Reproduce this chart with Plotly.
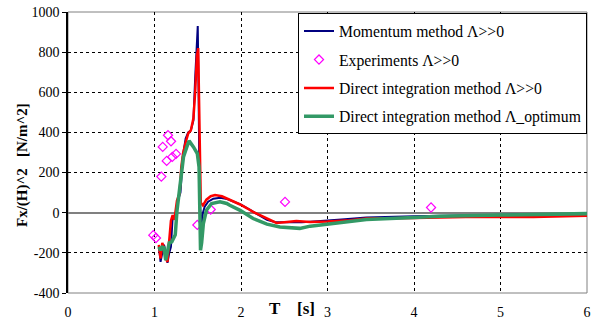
import plotly.graph_objects as go

# Momentum method (blue)
mom_t = [1.05, 1.07, 1.09, 1.11, 1.13, 1.15, 1.17, 1.19, 1.21, 1.23, 1.25, 1.27, 1.30, 1.33, 1.36, 1.39,
         1.42, 1.45, 1.47, 1.49, 1.50, 1.51, 1.52, 1.54, 1.56, 1.58, 1.62, 1.68, 1.76, 1.84, 1.92, 2.0,
         2.1, 2.2, 2.3, 2.4, 2.5, 2.6, 2.7, 2.8, 3.0, 3.2, 3.45, 3.7, 4.0, 4.5, 5.0, 5.5, 6.07]
mom_v = [-165, -245, -200, -160, -200, -250, -200, -170, -20, -15, -30, 60, 100, 290, 370, 400,
         410, 460, 670, 900, 930, 600, 100, -70, 0, 30, 55, 70, 75, 68, 55, 40,
         15, -10, -35, -47, -48, -50, -48, -45, -40, -32, -24, -20, -18, -14, -10, -8, -6]

# Experiments (magenta diamonds)
exp_t = [0.986, 1.017, 1.079, 1.095, 1.156, 1.191, 1.141, 1.206, 1.249, 1.495, 1.65, 2.509, 4.197]
exp_v = [-112, -126, 180, 328, 386, 356, 258, 278, 293, -61, 16, 54, 26]

# Direct integration method (red)
dir_t = [1.05, 1.07, 1.09, 1.11, 1.13, 1.15, 1.17, 1.19, 1.21, 1.23, 1.26, 1.29, 1.31, 1.33, 1.36, 1.39,
         1.42, 1.45, 1.47, 1.49, 1.505, 1.515, 1.525, 1.535, 1.56, 1.6, 1.65, 1.7, 1.78, 1.84, 1.92, 1.99,
         2.07, 2.14, 2.22, 2.30, 2.41, 2.53, 2.64, 2.8, 3.0, 3.26, 3.45, 4.0, 4.6, 5.38, 5.77, 6.07]
dir_v = [-160, -228, -150, -175, -228, -245, -140, -40, -12, -35, 60, 96, 228, 295, 350, 395,
         410, 470, 600, 780, 820, 500, 100, 50, 37, 65, 82, 88, 82, 71, 55, 41,
         22, 4, -12, -29, -51, -46, -41, -46, -44, -37, -29, -26, -21, -21, -17, -14]

# Direct integration method, optimum (green)
opt_t = [1.05, 1.07, 1.09, 1.11, 1.13, 1.15, 1.17, 1.2, 1.24, 1.26, 1.3, 1.335, 1.374, 1.40, 1.45, 1.495,
         1.515, 1.525, 1.532, 1.545, 1.565, 1.6, 1.66, 1.757, 1.835, 1.87, 1.99, 2.14, 2.30, 2.45, 2.6,
         2.68, 2.8, 2.99, 3.26, 3.45, 4.0, 4.3, 5.0, 6.07]
opt_v = [-170, -187, -172, -175, -237, -190, -150, -145, -110, 10, 162, 278, 328, 358, 328, 295,
         228, 0, -187, -150, -54, 12, 46, 54, 46, 37, 12, -29, -57, -71, -76,
         -78, -67, -57, -46, -34, -24, -17, -12, -4]

x_ticks = [0, 1, 2, 3, 4, 5, 6]
y_ticks = [-400, -200, 0, 200, 400, 600, 800, 1000]

SERIF = "Liberation Serif"

fig = go.Figure()
fig.add_trace(go.Scatter(x=mom_t, y=mom_v, mode="lines", name="Momentum method Λ>>0",
                         line=dict(color="#000080", width=2), legendgroup="a"))
fig.add_trace(go.Scatter(x=exp_t, y=exp_v, mode="markers", name="Experiments Λ>>0",
                         marker=dict(symbol="diamond-open", color="#FF00FF", size=7,
                                     line=dict(width=1.2, color="#FF00FF")), legendgroup="b"))
fig.add_trace(go.Scatter(x=dir_t, y=dir_v, mode="lines", name="Direct integration method Λ>>0",
                         line=dict(color="#FF0000", width=2.5), legendgroup="c"))
fig.add_trace(go.Scatter(x=opt_t, y=opt_v, mode="lines", name="Direct integration method Λ_optimum",
                         line=dict(color="#339966", width=3.5), legendgroup="d"))

fig.update_layout(
    width=596, height=320,
    margin=dict(l=68, r=9, t=12, b=27),
    paper_bgcolor="white", plot_bgcolor="white",
    font=dict(family=SERIF, size=14, color="black"),
    showlegend=True,
    legend=dict(x=1, y=0.995, xanchor="right", yanchor="top",
                bgcolor="white", bordercolor="black", borderwidth=1,
                font=dict(family=SERIF, size=15.7, color="black"),
                tracegroupgap=5, itemwidth=30),
    xaxis=dict(range=[0, 6], tickvals=x_ticks, ticktext=[str(v) for v in x_ticks],
               showgrid=True, gridcolor="black", griddash="dot", gridwidth=1,
               zeroline=False, showline=False, ticks="", ticklabelstandoff=9,
               automargin=False, tickfont=dict(family=SERIF, size=14)),
    yaxis=dict(range=[-400, 1000], tickvals=y_ticks, ticktext=[str(v) for v in y_ticks],
               showgrid=True, gridcolor="black", griddash="dot", gridwidth=1,
               zeroline=True, zerolinecolor="#808080", zerolinewidth=2,
               showline=True, linecolor="black", linewidth=1.5,
               ticks="outside", ticklen=4, tickcolor="black", automargin=False,
               tickfont=dict(family=SERIF, size=14)),
    shapes=[dict(type="rect", xref="paper", yref="paper", x0=0, x1=1, y0=0, y1=1,
                 line=dict(color="#808080", width=1), layer="below")],
    annotations=[
        dict(text="<b>T    [s]</b>", xref="paper", yref="paper", x=(292 - 68) / 519,
             y=(293 - 308) / 281, xanchor="center", yanchor="middle", showarrow=False,
             font=dict(family=SERIF, size=17, color="black")),
        dict(text="<b>Fx/(H)^2   [N/m^2]</b>", xref="paper", yref="paper",
             x=-(68 - 22) / 519, y=(293 - 165) / 281, xanchor="center", yanchor="middle",
             textangle=-90, showarrow=False,
             font=dict(family=SERIF, size=15, color="black")),
    ],
)

fig.write_html("out.html")
